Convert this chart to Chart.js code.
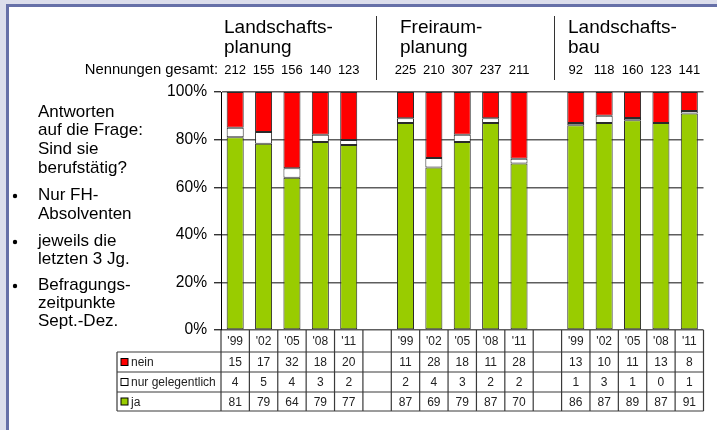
<!DOCTYPE html>
<html>
<head>
<meta charset="utf-8">
<script src="https://cdn.jsdelivr.net/npm/chart.js@4/dist/chart.umd.min.js"></script>
<style>
  body { margin: 0; background: #fff; }
  #wrap { width: 717px; height: 430px; position: relative; }
</style>
</head>
<body>
<div id="wrap"><canvas id="chart"></canvas></div>
<script>
// values (empty slots = gap between the three groups)
const categories = ["'99", "'02", "'05", "'08", "'11", "",
                    "'99", "'02", "'05", "'08", "'11", "",
                    "'99", "'02", "'05", "'08", "'11"];
const nein         = [15, 17, 32, 18, 20, null, 11, 28, 18, 11, 28, null, 13, 10, 11, 13, 8];
const gelegentlich = [4, 5, 4, 3, 2, null, 2, 4, 3, 2, 2, null, 1, 3, 1, 0, 1];
const ja           = [81, 79, 64, 79, 77, null, 87, 69, 79, 87, 70, null, 86, 87, 89, 87, 91];
const nennungen    = [212, 155, 156, 140, 123, null, 225, 210, 307, 237, 211, null, 92, 118, 160, 123, 141];
const groupTitles  = [["Landschafts-", "planung"], ["Freiraum-", "planung"], ["Landschafts-", "bau"]];
const yTicks       = [0, 20, 40, 60, 80, 100];
const sideText = [
  ["Antworten", "auf die Frage:", "Sind sie", "berufstätig?"],
  ["Nur FH-", "Absolventen"],
  ["jeweils die", "letzten 3 Jg."],
  ["Befragungs-", "zeitpunkte", "Sept.-Dez."]
];

const FONT = "Arial, 'Liberation Sans', sans-serif";
const RED = '#ff0000', GREEN = '#99cc00', WHITE = '#ffffff';

// bars are drawn as 100% stacked, table shows the raw numbers
function share(arr) {
  return arr.map((v, i) => v == null ? null : v / (ja[i] + gelegentlich[i] + nein[i]) * 100);
}

const decor = {
  id: 'decor',
  beforeDraw(chart) {
    const ctx = chart.ctx;
    ctx.save();
    ctx.fillStyle = '#dcdeec';
    ctx.fillRect(0, 0, chart.width, chart.height);
    ctx.fillStyle = '#6670a8';
    ctx.fillRect(6, 4, chart.width, chart.height);
    ctx.fillStyle = '#fff';
    ctx.fillRect(9, 7, chart.width, chart.height);
    ctx.restore();
  },
  afterDraw(chart) {
    const { ctx, chartArea: a, scales: { x } } = chart;
    const colW = x.getPixelForValue(1) - x.getPixelForValue(0);
    const x0 = x.getPixelForValue(0) - colW / 2;
    const rows = [a.bottom, a.bottom + 22, a.bottom + 42, a.bottom + 62, a.bottom + 81];
    const legLeft = 117;

    ctx.save();
    // table grid
    ctx.strokeStyle = '#3a3a3a';
    ctx.lineWidth = 1.2;
    ctx.beginPath();
    for (let r = 1; r < rows.length; r++) {
      ctx.moveTo(legLeft, rows[r]);
      ctx.lineTo(x0 + categories.length * colW, rows[r]);
    }
    for (let i = 0; i <= categories.length; i++) {
      ctx.moveTo(x0 + i * colW, rows[0]);
      ctx.lineTo(x0 + i * colW, rows[4]);
    }
    ctx.moveTo(legLeft, rows[1]);
    ctx.lineTo(legLeft, rows[4]);
    ctx.stroke();

    // table text
    ctx.fillStyle = '#222';
    ctx.font = '12px ' + FONT;
    ctx.textAlign = 'center';
    ctx.textBaseline = 'middle';
    const tableRows = [categories, nein, gelegentlich, ja];
    tableRows.forEach((arr, r) => {
      const cy = (rows[r] + rows[r + 1]) / 2 + 1;
      arr.forEach((v, i) => {
        if (v === null || v === '') return;
        ctx.fillText(String(v), x.getPixelForValue(i), cy);
      });
    });

    // legend cells
    const legend = [['nein', RED], ['nur gelegentlich', WHITE], ['ja', GREEN]];
    ctx.textAlign = 'left';
    legend.forEach(([label, col], k) => {
      const cy = (rows[k + 1] + rows[k + 2]) / 2;
      ctx.fillStyle = col;
      ctx.fillRect(121, cy - 3.5, 7, 7);
      ctx.strokeStyle = '#000';
      ctx.lineWidth = 1;
      ctx.strokeRect(121, cy - 3.5, 7, 7);
      ctx.fillStyle = '#222';
      ctx.fillText(label, 131, cy + 1);
    });

    // Nennungen gesamt
    ctx.fillStyle = '#000';
    ctx.textBaseline = 'alphabetic';
    ctx.textAlign = 'right';
    ctx.font = '14.8px ' + FONT;
    ctx.fillText('Nennungen gesamt:', a.left - 3, 74);
    ctx.textAlign = 'center';
    ctx.font = '13px ' + FONT;
    nennungen.forEach((v, i) => {
      if (v == null) return;
      ctx.fillText(String(v), x.getPixelForValue(i), 74);
    });

    // group titles
    ctx.textAlign = 'left';
    ctx.font = '19px ' + FONT;
    const titleX = [224, 400, 568];
    groupTitles.forEach((lines, g) => {
      lines.forEach((t, l) => ctx.fillText(t, titleX[g], 33 + l * 20));
    });

    // separators between groups
    ctx.strokeStyle = '#333';
    ctx.lineWidth = 1;
    ctx.beginPath();
    [376.5, 554.5].forEach(sx => {
      ctx.moveTo(sx, 16);
      ctx.lineTo(sx, 80);
    });
    ctx.stroke();

    // side notes
    ctx.font = '17px ' + FONT;
    ctx.textBaseline = 'middle';
    const lineY = [[112, 130, 149, 168], [195, 214], [241, 259], [285, 303, 321]];
    sideText.forEach((para, p) => {
      para.forEach((t, l) => ctx.fillText(t, 38, lineY[p][l]));
      if (p > 0) {
        ctx.beginPath();
        ctx.arc(15, lineY[p][0] + 1, 2.2, 0, Math.PI * 2);
        ctx.fill();
      }
    });
    ctx.restore();
  }
};

const ds = (label, data, color) => ({
  label,
  data: share(data),
  backgroundColor: color,
  borderColor: '#2a2a2a',
  borderWidth: 1,
  borderSkipped: false,
  barPercentage: 0.6,
  categoryPercentage: 1
});

new Chart(document.getElementById('chart'), {
  type: 'bar',
  data: {
    labels: categories,
    datasets: [
      ds('ja', ja, GREEN),
      ds('nur gelegentlich', gelegentlich, WHITE),
      ds('nein', nein, RED)
    ]
  },
  options: {
    responsive: true,
    maintainAspectRatio: false,
    animation: false,
    layout: { padding: { left: 0, right: 13.5, top: 92, bottom: 100 } },
    plugins: { legend: { display: false }, tooltip: { enabled: false } },
    scales: {
      x: {
        stacked: true,
        ticks: { display: false },
        grid: { display: false },
        border: { display: false },
        afterFit(s) { s.height = 0; }
      },
      y: {
        stacked: true,
        min: 0,
        max: 100,
        afterBuildTicks(s) { s.ticks = yTicks.map(v => ({ value: v })); },
        ticks: {
          callback: v => v + '%',
          color: '#000',
          padding: 7,
          font: { family: FONT, size: 15.6 }
        },
        grid: { color: '#5e5e5e', lineWidth: 1.4, tickLength: 7, tickColor: '#333' },
        border: { color: '#000', width: 1 },
        afterFit(s) { s.width = 221; }
      }
    }
  },
  plugins: [decor]
});
</script>
</body>
</html>
